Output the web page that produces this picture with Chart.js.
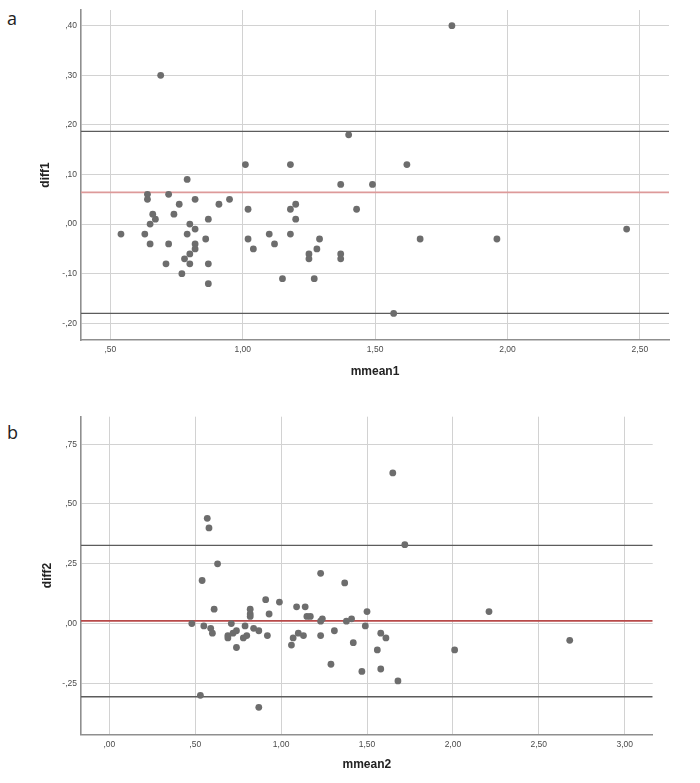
<!DOCTYPE html>
<html>
<head>
<meta charset="utf-8">
<script src="https://cdn.jsdelivr.net/npm/chart.js@4/dist/chart.umd.min.js"></script>
<style>
  body { margin: 0; background: #fff; }
  #wrap { position: relative; width: 700px; height: 783px; background: #fff; }
  .box { position: absolute; left: 0; }
  .tag { position: absolute; font: 18px/18px "Open Sans", sans-serif; color: #222; }
</style>
</head>
<body>
<div id="wrap">
  <div class="tag" style="left:7px;top:9px">a</div>
  <div class="tag" style="left:7px;top:423px">b</div>
  <div class="box" style="top:0"><canvas id="chartA" width="700" height="390"></canvas></div>
  <div class="box" style="top:390px"><canvas id="chartB" width="700" height="393"></canvas></div>
</div>
<script>
// Panel a: Bland-Altman, diff1 vs mmean1
const mmean1 = [0.54, 0.63, 0.64, 0.64, 0.66, 0.67, 0.65, 0.65, 0.72, 0.72, 0.71, 0.74, 0.76, 0.77, 0.78,
  0.79, 0.79, 0.80, 0.80, 0.80, 0.82, 0.82, 0.82, 0.82, 0.86, 0.87, 0.87, 0.87, 0.91, 0.95,
  1.01, 1.02, 1.02, 1.04, 1.10, 1.12, 1.15, 1.18, 1.18, 1.18, 1.20, 1.20, 1.25, 1.25, 1.27,
  1.28, 1.29, 1.37, 1.37, 1.37, 1.49, 1.62, 1.43, 1.67, 1.96, 2.45, 1.57, 1.40, 1.79, 0.69]
const diff1 = [-0.02, -0.02, 0.06, 0.05, 0.02, 0.01, 0.00, -0.04, 0.06, -0.04, -0.08, 0.02, 0.04, -0.10, -0.07,
  0.09, -0.02, 0.00, -0.06, -0.08, 0.05, -0.01, -0.04, -0.05, -0.03, 0.01, -0.08, -0.12, 0.04, 0.05,
  0.12, 0.03, -0.03, -0.05, -0.02, -0.04, -0.11, 0.12, 0.03, -0.02, 0.04, 0.01, -0.06, -0.07, -0.11,
  -0.05, -0.03, 0.08, -0.06, -0.07, 0.08, 0.12, 0.03, -0.03, -0.03, -0.01, -0.18, 0.18, 0.40, 0.30]
const bias1 = 0.064
const limits1 = [0.187, -0.18]
const xTicks1 = [0.5, 1.0, 1.5, 2.0, 2.5]
const yTicks1 = [-0.2, -0.1, 0.0, 0.1, 0.2, 0.3, 0.4]

// Panel b: Bland-Altman, diff2 vs mmean2
const mmean2 = [0.63, 0.54, 0.48, 0.55, 0.59, 0.60, 0.61, 0.71, 0.69, 0.69, 0.72, 0.74, 0.74, 0.79, 0.78,
  0.80, 0.82, 0.82, 0.82, 0.84, 0.87, 0.91, 0.93, 0.92, 0.99, 1.06, 1.07, 1.09, 1.10, 1.13,
  1.14, 1.15, 1.17, 1.23, 1.23, 1.24, 1.23, 1.31, 1.29, 1.37, 1.38, 1.41, 0.53, 0.87, 1.50,
  1.49, 1.42, 1.58, 1.61, 1.56, 1.47, 1.58, 1.68, 2.01, 2.21, 2.68, 1.65, 1.72, 0.57, 0.58]
const diff2 = [0.25, 0.18, 0.00, -0.01, -0.02, -0.04, 0.06, 0.00, -0.05, -0.06, -0.04, -0.03, -0.10, -0.01, -0.06,
  -0.05, 0.06, 0.04, 0.03, -0.02, -0.03, 0.10, 0.04, -0.05, 0.09, -0.09, -0.06, 0.07, -0.04, -0.05,
  0.07, 0.03, 0.03, 0.21, 0.01, 0.02, -0.05, -0.03, -0.17, 0.17, 0.01, 0.02, -0.30, -0.35, 0.05,
  -0.01, -0.08, -0.04, -0.06, -0.11, -0.20, -0.19, -0.24, -0.11, 0.05, -0.07, 0.63, 0.33, 0.44, 0.40]
const bias2 = 0.011
const limits2 = [0.327, -0.306]
const xTicks2 = [0.0, 0.5, 1.0, 1.5, 2.0, 2.5, 3.0]
const yTicks2 = [-0.25, 0.0, 0.25, 0.5, 0.75]

;(function () {
  // SPSS style numbers: ",50" "1,00" "-,10"
  const fmt = (v) => {
    const s = Math.abs(v).toFixed(2).replace('.', ',')
    return (v < 0 ? '-' : '') + (s.startsWith('0') ? s.slice(1) : s)
  }

  const hline = (y, x0, x1, color, width) => ({
    data: [{ x: x0, y }, { x: x1, y }],
    showLine: true, pointRadius: 0, borderColor: color, borderWidth: width, order: 1,
  })

  function draw(id, p) {
    const pts = p.xs.map((x, i) => ({ x, y: p.ys[i] }))
    const tickFont = { family: '"Liberation Sans", Arial, sans-serif', size: 8.5 }
    const titleFont = { family: '"Liberation Sans", Arial, sans-serif', size: 12, weight: 'bold' }
    return new Chart(document.getElementById(id), {
      type: 'scatter',
      data: {
        datasets: [
          { data: pts, pointRadius: 3.4, pointBackgroundColor: '#6d6d6d', pointBorderWidth: 0, order: 0 },
          hline(p.limits[0], p.xMin, p.xMax, '#5c5c5c', 1.3),
          hline(p.bias, p.xMin, p.xMax, p.biasColor, 1.8),
          hline(p.limits[1], p.xMin, p.xMax, '#5c5c5c', 1.3),
        ],
      },
      options: {
        responsive: false,
        animation: false,
        layout: { padding: p.pad },
        plugins: { legend: { display: false }, tooltip: { enabled: false } },
        scales: {
          x: {
            type: 'linear', min: p.xMin, max: p.xMax,
            afterBuildTicks: (s) => { s.ticks = p.xTicks.map((v) => ({ value: v })) },
            afterFit: (s) => { s.height = p.xH },
            ticks: { callback: fmt, color: '#4a4a4a', font: tickFont, padding: 5, maxRotation: 0 },
            grid: { color: '#d2d2d2', drawTicks: false },
            border: { color: '#8f8f8f', width: 1.6 },
            title: { display: true, text: p.xTitle, color: '#222', font: titleFont, padding: { top: 0, bottom: 11 } },
          },
          y: {
            type: 'linear', min: p.yMin, max: p.yMax,
            afterBuildTicks: (s) => { s.ticks = p.yTicks.map((v) => ({ value: v })) },
            afterFit: (s) => { s.width = 81 },
            ticks: { callback: fmt, color: '#4a4a4a', font: tickFont, padding: 4 },
            grid: { color: '#d2d2d2', drawTicks: false },
            border: { color: '#8f8f8f', width: 1.6 },
            title: { display: true, text: p.yTitle, color: '#222', font: titleFont, padding: { top: p.yTitlePad, bottom: 0 } },
          },
        },
      },
    })
  }

  draw('chartA', {
    xs: mmean1, ys: diff1, bias: bias1, limits: limits1, xTicks: xTicks1, yTicks: yTicks1,
    xMin: 0.389, xMax: 2.61, yMin: -0.2336, yMax: 0.4316,
    xTitle: 'mmean1', yTitle: 'diff1', biasColor: '#dd9a9a',
    pad: { left: 0, top: 10, right: 31, bottom: 0 }, xH: 50, yTitlePad: 38,
  })

  draw('chartB', {
    xs: mmean2, ys: diff2, bias: bias2, limits: limits2, xTicks: xTicks2, yTicks: yTicks2,
    xMin: -0.165, xMax: 3.163, yMin: -0.463, yMax: 0.865,
    xTitle: 'mmean2', yTitle: 'diff2', biasColor: '#b84a4a',
    pad: { left: 0, top: 26.7, right: 47.3, bottom: 0 }, xH: 48.7, yTitlePad: 40,
  })
})()
</script>
</body>
</html>
